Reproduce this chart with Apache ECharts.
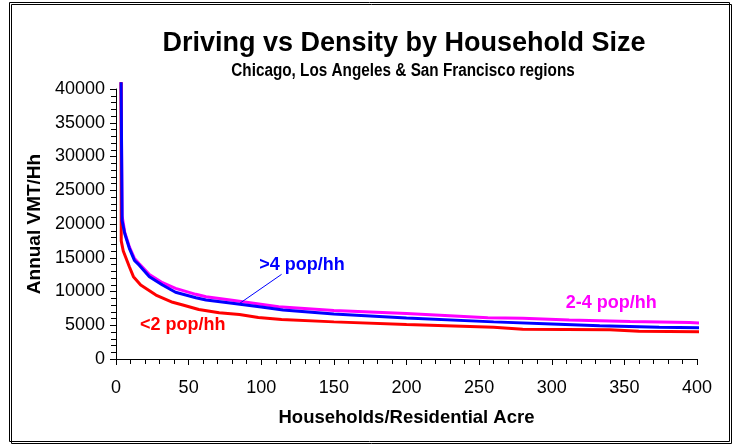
<!DOCTYPE html>
<html>
<head>
<meta charset="utf-8">
<script src="https://cdn.jsdelivr.net/npm/echarts@6/dist/echarts.min.js"></script>
<style>
  html, body { margin: 0; padding: 0; background: #fff; }
  #chart { width: 740px; height: 445px; }
</style>
</head>
<body>
<div id="chart"></div>
<script>
// households/acre -> annual VMT per household
const smallX = [3.5, 3.6, 5, 9.2, 12, 17, 27.5, 39, 46, 57, 71, 85, 98, 114, 150, 200, 260, 280, 340, 360, 404]
const smallY = [41000, 17500, 16000, 13670, 12200, 10960, 9480, 8400, 8000, 7330, 6840, 6600, 6150, 5860, 5500, 5100, 4700, 4400, 4350, 4100, 4050]

const midX = [3.5, 4.2, 6, 9.2, 12.7, 16, 23, 32, 41, 55, 62, 80, 112, 150, 200, 256, 280, 312, 354, 395, 404]
const midY = [41000, 21200, 18800, 16600, 14900, 14100, 12500, 11300, 10470, 9580, 9230, 8700, 7750, 7200, 6750, 6100, 6030, 5790, 5540, 5400, 5290]

const bigX = [3.5, 4.2, 6, 9.2, 12.7, 16, 23, 32, 41, 55, 62, 80, 100, 115, 150, 200, 260, 300, 333, 374, 404]
const bigY = [41000, 20500, 18600, 16400, 14600, 13900, 12200, 10960, 9880, 9080, 8740, 8250, 7700, 7250, 6660, 6070, 5500, 5200, 4910, 4690, 4620]

const seriesNames = ['<2 pop/hh', '2-4 pop/hh', '>4 pop/hh']
// where each series label sits, in data units
const labelAt = [[46, 5035], [341, 8250], [128, 13920]]
const leader = [[114, 12540], [84.2, 8100]]

const font = 'Liberation Sans, Arial, sans-serif'
const zip = (xs, ys) => xs.map((x, i) => [x, ys[i]])

const chart = echarts.init(document.getElementById('chart'))

const baseX = { type: 'value', min: 0, max: 400, gridIndex: 0 }
const baseY = { type: 'value', min: 0, max: 40000, gridIndex: 0 }

chart.setOption({
  animation: false,
  backgroundColor: '#fff',
  title: {
    text: 'Driving vs Density by Household Size',
    left: 399, top: 25, textAlign: 'center',
    textStyle: { fontFamily: font, fontSize: 27, fontWeight: 'bold', color: '#000' }
  },
  grid: { left: 116, right: 43, top: 89, bottom: 86, containLabel: false },
  xAxis: [Object.assign({}, baseX, {
    interval: 50,
    name: 'Households/Residential Acre',
    nameLocation: 'middle', nameGap: 49,
    nameTextStyle: { fontFamily: font, fontSize: 18.5, fontWeight: 'bold', color: '#000' },
    axisLine: { lineStyle: { color: '#000', width: 1 } },
    axisTick: { length: 6, lineStyle: { color: '#000' } },
    axisLabel: { fontFamily: font, fontSize: 18, color: '#000', margin: 20 },
    splitLine: { show: false }
  }), Object.assign({}, baseX, {
    interval: 10,
    axisLine: { show: false },
    axisTick: { inside: true, length: 5, lineStyle: { color: '#000' } },
    axisLabel: { show: false },
    splitLine: { show: false }
  })],
  yAxis: [Object.assign({}, baseY, {
    interval: 5000,
    name: 'Annual VMT/Hh',
    nameLocation: 'middle', nameGap: 65,
    nameTextStyle: { fontFamily: font, fontSize: 19, fontWeight: 'bold', color: '#000' },
    axisLine: { show: true, lineStyle: { color: '#000', width: 1 } },
    axisTick: { show: true, length: 6, lineStyle: { color: '#000' } },
    axisLabel: { fontFamily: font, fontSize: 18, color: '#000', margin: 11, formatter: v => String(v) },
    splitLine: { show: false }
  }), Object.assign({}, baseY, {
    interval: 1000,
    axisLine: { show: false },
    axisTick: { show: true, inside: true, length: 5, lineStyle: { color: '#000' } },
    axisLabel: { show: false },
    splitLine: { show: false }
  })],
  series: [{
    name: seriesNames[1], type: 'line', data: zip(midX, midY),
    showSymbol: false, clip: false, z: 2,
    lineStyle: { color: '#ff00ff', width: 3 }
  }, {
    name: seriesNames[0], type: 'line', data: zip(smallX, smallY),
    showSymbol: false, clip: false, z: 3,
    lineStyle: { color: '#ff0000', width: 3 }
  }, {
    name: seriesNames[2], type: 'line', data: zip(bigX, bigY),
    showSymbol: false, clip: false, z: 4,
    lineStyle: { color: '#0000ff', width: 3 },
    markLine: {
      silent: true, symbol: ['none', 'none'],
      label: { show: false },
      lineStyle: { color: '#0000ff', width: 1, type: 'solid' },
      data: [[{ coord: leader[0] }, { coord: leader[1] }]]
    }
  }]
})

// series labels, subtitle (a bit condensed, like the original) and frame
const colors = ['#ff0000', '#ff00ff', '#0000ff']
const texts = labelAt.map((p, i) => {
  const px = chart.convertToPixel({ gridIndex: 0 }, p)
  return {
    type: 'text', x: px[0], y: px[1], z: 10,
    style: {
      text: seriesNames[i], fill: colors[i], align: 'center', verticalAlign: 'middle',
      font: 'bold 18px ' + font
    }
  }
})
chart.setOption({
  graphic: [{
    type: 'rect', z: -10, silent: true,
    shape: { x: 9.5, y: 2.5, width: 720, height: 439 },
    style: { fill: 'none', stroke: '#000', lineWidth: 1, shadowColor: '#000', shadowOffsetX: 2, shadowOffsetY: 2, shadowBlur: 0 }
  }, {
    type: 'text', x: 403, y: 71, scaleX: 0.85, z: 10,
    style: {
      text: 'Chicago, Los Angeles & San Francisco regions', fill: '#000',
      align: 'center', verticalAlign: 'middle', font: 'bold 18px ' + font
    }
  }].concat(texts)
})
</script>
</body>
</html>
